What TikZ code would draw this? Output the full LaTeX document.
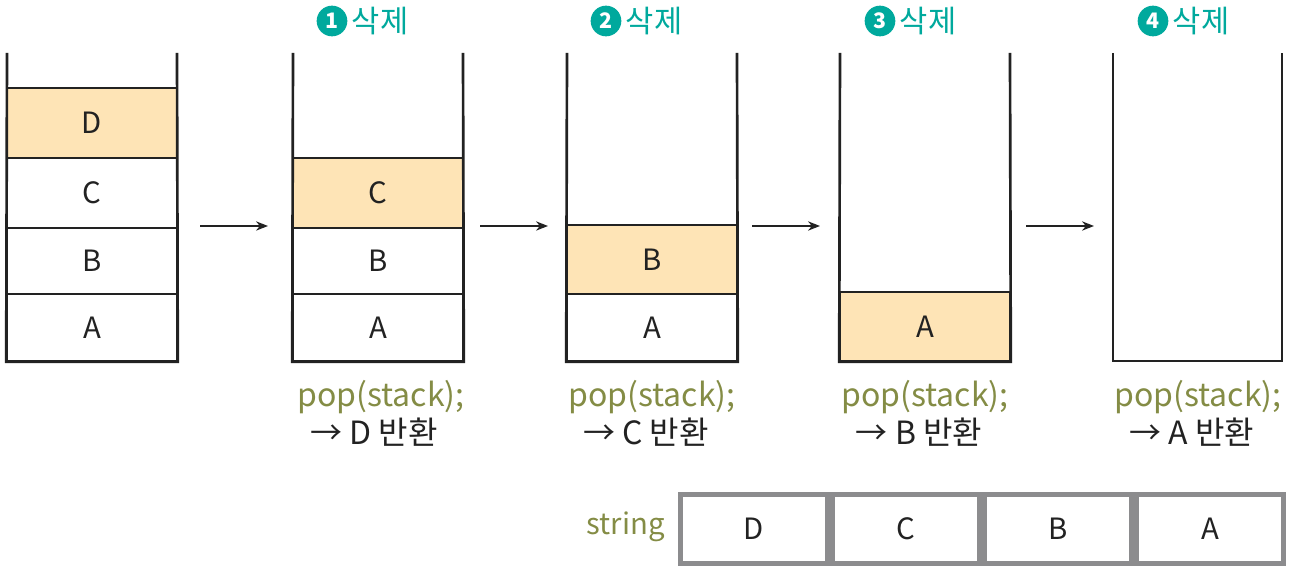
\documentclass[tikz,border=0pt]{standalone}
\usepackage{fontspec}
\setmainfont{Noto Sans CJK KR}
\usetikzlibrary{arrows.meta}
\definecolor{fillc}{HTML}{FEE4B6}
\definecolor{teal1}{HTML}{00A99D}
\definecolor{olive1}{HTML}{848C45}
\definecolor{grayb}{HTML}{8C8C8E}
\definecolor{ink}{HTML}{222222}
\tikzset{
  wall/.style={line width=2pt, draw=ink},
  cellbox/.style={draw=ink, line width=1.2pt, minimum width=127.5pt, inner sep=0pt, font=\fontsize{22}{24}\selectfont, text=ink},
  topcell/.style={cellbox, fill=fillc},
  flow/.style={-{Stealth[length=9pt,width=7pt]}, line width=1pt, draw=ink},
  popcode/.style={text=olive1, font=\fontsize{24}{26}\selectfont, inner sep=0pt},
  popret/.style={text=ink, font=\fontsize{24}{26}\selectfont, inner sep=0pt},
  numdot/.style={circle, fill=teal1, text=white, inner sep=0pt, minimum size=23pt, font=\fontsize{16}{16}\selectfont\bfseries},
  headtxt/.style={text=teal1, font=\fontsize{23}{25}\selectfont, inner sep=0pt},
  strcell/.style={draw=grayb, line width=4pt, minimum width=110pt, minimum height=52pt, inner sep=0pt, font=\fontsize{22}{24}\selectfont, text=ink},
}
\begin{document}
\begin{tikzpicture}[x=0.75pt,y=-0.75pt]
\useasboundingbox (0,0) rectangle (1297,570);
% ---------- stack 1 ----------
\node[topcell, minimum height=52.5pt] (s1d) at (92,123) {D};
\node[cellbox, minimum height=52.5pt] (s1c) at (92,193) {C};
\node[cellbox, minimum height=49.5pt] (s1b) at (92,261) {B};
\node[cellbox, minimum height=50.25pt] (s1a) at (92,327.5) {A};
\coordinate (s1tl) at (7,53); \coordinate (s1tr) at (177,53);
\draw[wall] (s1tl) -- (s1a.south west) -- (s1a.south east) -- (s1tr);
% ---------- stack 2 ----------
\node[topcell, minimum height=52.5pt] (s2c) at (378,193) {C};
\node[cellbox, minimum height=49.5pt] (s2b) at (378,261) {B};
\node[cellbox, minimum height=50.25pt] (s2a) at (378,327.5) {A};
\coordinate (s2tl) at (293,53); \coordinate (s2tr) at (463,53);
\draw[wall] (s2tl) -- (s2a.south west) -- (s2a.south east) -- (s2tr);
% ---------- stack 3 ----------
\node[topcell, minimum height=51.75pt] (s3b) at (652,259.5) {B};
\node[cellbox, minimum height=50.25pt] (s3a) at (652,327.5) {A};
\coordinate (s3tl) at (567,53); \coordinate (s3tr) at (737,53);
\draw[wall] (s3tl) -- (s3a.south west) -- (s3a.south east) -- (s3tr);
% ---------- stack 4 ----------
\node[topcell, minimum height=51.75pt] (s4a) at (925,326.5) {A};
\coordinate (s4tl) at (840,53); \coordinate (s4tr) at (1010,53);
\draw[wall] (s4tl) -- (s4a.south west) -- (s4a.south east) -- (s4tr);
% ---------- stack 5 ----------
\coordinate (s5tl) at (1113,53); \coordinate (s5bl) at (1113,361);
\coordinate (s5br) at (1282,361); \coordinate (s5tr) at (1282,53);
\draw[wall] (s5tl) -- (s5bl) -- (s5br) -- (s5tr);
% ---------- arrows ----------
\coordinate (a1s) at (200,226); \coordinate (a1e) at (268,226);
\coordinate (a2s) at (480,226); \coordinate (a2e) at (548,226);
\coordinate (a3s) at (752,226); \coordinate (a3e) at (820,226);
\coordinate (a4s) at (1026,226); \coordinate (a4e) at (1094,226);
\draw[flow] (a1s) -- (a1e);
\draw[flow] (a2s) -- (a2e);
\draw[flow] (a3s) -- (a3e);
\draw[flow] (a4s) -- (a4e);
% ---------- headers ----------
\node[numdot] (n1) at (332,21) {1};
\node[headtxt] (h1) at (380,21) {삭제};
\node[numdot] (n2) at (606,21) {2};
\node[headtxt] (h2) at (654,21) {삭제};
\node[numdot] (n3) at (880,21) {3};
\node[headtxt] (h3) at (928,21) {삭제};
\node[numdot] (n4) at (1153,21) {4};
\node[headtxt] (h4) at (1201,21) {삭제};
% ---------- pop texts ----------
\node[popcode] (p1) at (381,397) {pop(stack);};
\node[popret] (r1) at (374,432) {→ D 반환};
\node[popcode] (p2) at (652,397) {pop(stack);};
\node[popret] (r2) at (646,432) {→ C 반환};
\node[popcode] (p3) at (925,397) {pop(stack);};
\node[popret] (r3) at (919,432) {→ B 반환};
\node[popcode] (p4) at (1198,397) {pop(stack);};
\node[popret] (r4) at (1192,432) {→ A 반환};
% ---------- string array ----------
\node[strcell] (sd) at (754,529) {D};
\node[strcell, anchor=west] (sc) at (sd.east) {C};
\node[strcell, anchor=west] (sb) at (sc.east) {B};
\node[strcell, anchor=west] (sa) at (sb.east) {A};
\node[text=olive1, font=\fontsize{22}{24}\selectfont, inner sep=0pt, anchor=east] (lbl) at (665,527) {string};
\end{tikzpicture}
\end{document}
